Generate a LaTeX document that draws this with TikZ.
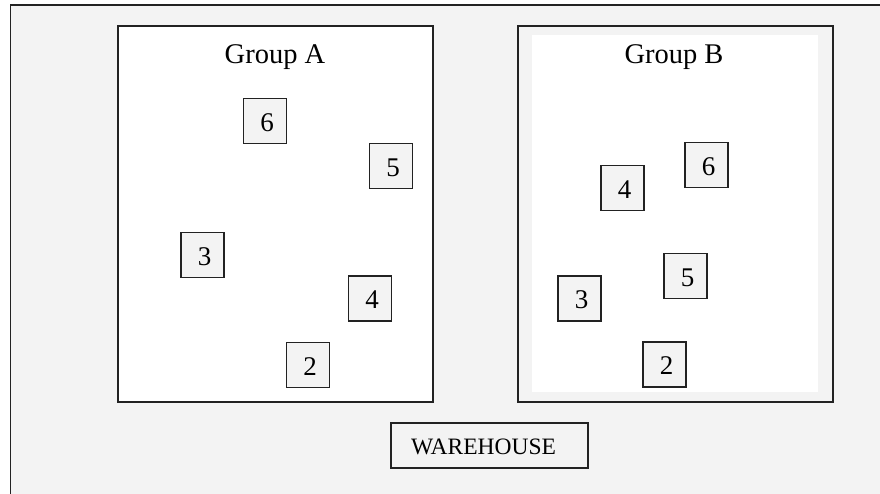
\documentclass[tikz,border=0pt]{standalone}
\usepackage{fontspec}
\setmainfont{Liberation Serif}
\definecolor{panel}{HTML}{F3F3F3}
\definecolor{edge}{HTML}{222222}
\begin{document}
\begin{tikzpicture}[x=1pt,y=-1pt,
  groupbox/.style={draw=edge,line width=1.9pt,anchor=north west,inner sep=0pt},
  numbox/.style={draw=edge,line width=1.6pt,fill=panel,minimum width=43pt,minimum height=45pt,inner sep=0pt},
  numtext/.style={font=\fontsize{27}{30}\selectfont},
  titletext/.style={font=\fontsize{28.5}{32}\selectfont,anchor=base},
  whbox/.style={draw=edge,line width=1.6pt,fill=panel,minimum width=197pt,minimum height=45pt,inner sep=0pt}]
  \useasboundingbox (0,0) rectangle (880,493);
  \clip (0,0) rectangle (880,493);
  \fill[white] (0,0) rectangle (880,493);
  % outer frame, running off the right and bottom edges
  \draw[draw=edge,line width=1.9pt,fill=panel] (10.5,5) rectangle (900,520);

  % Group A
  \node[groupbox,fill=white,minimum width=315pt,minimum height=376pt] (groupA) at (117,25) {};
  \node[titletext] (titleA) at (275,63) {Group A};
  % Group B, with its inner white field
  \node[groupbox,fill=panel,minimum width=315pt,minimum height=376pt] (groupB) at (517,25) {};
  \fill[white] (532,35) rectangle (818,392);
  \node[titletext] (titleB) at (674,63) {Group B};

  % items in Group A
  \node[numbox,label={[numtext,xshift=2pt,yshift=-1.5pt]center:6}] (a6) at (265,121) {};
  \node[numbox,label={[numtext,xshift=2pt,yshift=-1.5pt]center:5}] (a5) at (391,166) {};
  \node[numbox,label={[numtext,xshift=2pt,yshift=-1.5pt]center:3}] (a3) at (202.5,255) {};
  \node[numbox,label={[numtext,xshift=2pt,yshift=-1.5pt]center:4}] (a4) at (370,298.5) {};
  \node[numbox,label={[numtext,xshift=2pt,yshift=-1.5pt]center:2}] (a2) at (308,365) {};

  % items in Group B
  \node[numbox,label={[numtext,xshift=2pt,yshift=-1.5pt]center:4}] (b4) at (622.5,188) {};
  \node[numbox,label={[numtext,xshift=2pt,yshift=-1.5pt]center:6}] (b6) at (706.5,165) {};
  \node[numbox,label={[numtext,xshift=2pt,yshift=-1.5pt]center:5}] (b5) at (685.5,276) {};
  \node[numbox,label={[numtext,xshift=2pt,yshift=-1.5pt]center:3}] (b3) at (579.5,298.5) {};
  \node[numbox,label={[numtext,xshift=2pt,yshift=-1.5pt]center:2}] (b2) at (664.5,364.5) {};

  % warehouse
  \node[whbox,label={[font=\fontsize{23.5}{27}\selectfont,xshift=-6pt,yshift=-1pt]center:WAREHOUSE}] (warehouse) at (489.5,445.5) {};
\end{tikzpicture}
\end{document}
